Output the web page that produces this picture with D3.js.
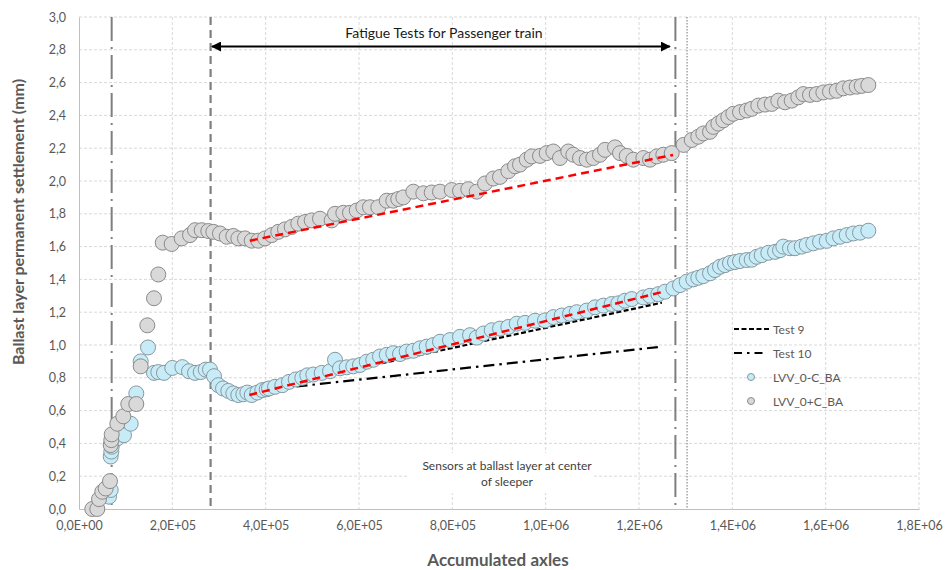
<!DOCTYPE html>
<html>
<head>
<meta charset="utf-8">
<script src="https://cdn.jsdelivr.net/npm/d3@7"></script>
<style>
  html, body { margin: 0; padding: 0; background: #fff; }
  svg { display: block; font-family: Lato, "Open Sans", sans-serif; }
</style>
</head>
<body>
<svg id="chart" width="945" height="570"></svg>
<script>
// ---------- DATA ----------
const xTicks = [0, 200000, 400000, 600000, 800000, 1000000, 1200000, 1400000, 1600000, 1800000];
const xTickLabels = ["0,0E+00","2,0E+05","4,0E+05","6,0E+05","8,0E+05","1,0E+06","1,2E+06","1,4E+06","1,6E+06","1,8E+06"];
const yTicks = [0, 0.2, 0.4, 0.6, 0.8, 1.0, 1.2, 1.4, 1.6, 1.8, 2.0, 2.2, 2.4, 2.6, 2.8, 3.0];
const yTickLabels = ["0,0","0,2","0,4","0,6","0,8","1,0","1,2","1,4","1,6","1,8","2,0","2,2","2,4","2,6","2,8","3,0"];

const seriesNames = ["Test 9", "Test 10", "LVV_0-C_BA", "LVV_0+C_BA"];

// LVV_0-C_BA (light blue markers)
const blueX = [64300,67900,67900,69200,70100,82100,96400,110800,122800,132200,147900,160700,169900,182100,199900,221400,235700,248600,260800,271500,280700,289300,298500,308600,319900,330600,341400,352100,360700,370100,382100,392800,402200,407100,420000,435700,450000,464400,478500,489200,502100,520100,537900,548600,559300,573700,587800,602100,616500,630600,645000,659400,673500,687900,702200,716400,730700,745100,759200,773600,794900,816400,837900,852200,866400,884400,902200,920000,938000,955700,977200,998600,1016400,1034400,1052200,1066500,1087900,1105700,1123500,1141500,1155700,1170000,1184400,1209300,1223600,1241400,1255700,1273600,1287900,1302200,1316400,1327100,1337800,1352200,1362900,1373600,1384300,1395000,1405700,1416400,1430800,1441500,1452200,1462900,1477100,1491500,1502200,1509300,1523600,1534300,1548700,1559400,1573600,1587900,1602200,1616400,1630800,1645100,1659300,1673600,1691400];
const blueY = [0.075,0.116,0.32,0.35,0.38,0.43,0.45,0.52,0.705,0.90,0.985,0.83,0.835,0.83,0.86,0.865,0.84,0.83,0.835,0.85,0.85,0.81,0.755,0.735,0.72,0.705,0.695,0.70,0.71,0.695,0.71,0.725,0.73,0.735,0.745,0.755,0.775,0.79,0.80,0.815,0.82,0.83,0.84,0.91,0.858,0.864,0.87,0.878,0.898,0.91,0.93,0.94,0.95,0.945,0.96,0.965,0.98,0.99,1.00,1.02,1.03,1.05,1.06,1.045,1.07,1.09,1.10,1.11,1.13,1.135,1.148,1.15,1.17,1.18,1.19,1.20,1.21,1.23,1.24,1.25,1.254,1.27,1.28,1.29,1.30,1.31,1.325,1.345,1.365,1.386,1.40,1.41,1.42,1.437,1.457,1.477,1.487,1.50,1.506,1.512,1.518,1.52,1.538,1.548,1.562,1.568,1.578,1.60,1.59,1.59,1.60,1.61,1.62,1.63,1.635,1.65,1.66,1.67,1.68,1.685,1.697];

// LVV_0+C_BA (grey markers)
const greyX = [28500,39200,42900,49900,57200,66400,67900,69200,70100,82100,94900,105600,122800,132200,146400,160700,169900,179400,198600,220100,237900,248600,262900,277100,287800,302100,316500,330600,341400,355700,370100,384200,398600,412900,427100,441400,455800,469900,484300,498600,516400,541500,548600,566400,580700,595100,609200,623600,641400,659400,673500,684200,694900,716400,737800,755800,773600,798700,816400,834200,852200,870000,887800,902200,920000,934300,945000,959400,970100,987900,1002200,1016400,1030700,1048500,1059300,1073600,1087900,1102100,1116400,1127200,1148600,1159300,1173700,1187800,1209300,1223600,1238000,1252100,1270100,1295500,1313000,1327100,1337800,1352200,1359300,1370000,1380700,1391400,1402100,1416400,1430800,1441500,1455700,1470000,1484400,1498500,1512900,1527200,1541400,1552100,1566400,1580800,1595000,1609300,1623700,1637800,1652200,1666500,1677200,1691400];
const greyY = [0.00,0.00,0.06,0.105,0.125,0.17,0.39,0.42,0.455,0.52,0.565,0.64,0.64,0.87,1.12,1.285,1.43,1.624,1.616,1.65,1.67,1.70,1.70,1.695,1.69,1.68,1.66,1.665,1.65,1.65,1.636,1.636,1.65,1.67,1.69,1.705,1.72,1.74,1.75,1.76,1.77,1.76,1.80,1.806,1.806,1.82,1.84,1.84,1.84,1.88,1.88,1.89,1.90,1.935,1.925,1.93,1.935,1.945,1.94,1.95,1.935,1.985,2.015,2.025,2.06,2.09,2.10,2.13,2.15,2.153,2.17,2.18,2.14,2.18,2.16,2.14,2.13,2.14,2.16,2.19,2.205,2.17,2.153,2.13,2.14,2.13,2.15,2.16,2.17,2.22,2.25,2.27,2.29,2.30,2.33,2.35,2.37,2.39,2.41,2.42,2.43,2.44,2.46,2.466,2.47,2.49,2.48,2.49,2.51,2.53,2.525,2.53,2.54,2.545,2.55,2.565,2.57,2.575,2.58,2.585];

// Fitted / reference lines
const test9X = [366000, 1249000];
const test9Y = [0.715, 1.258];
const test10X = [366000, 1249000];
const test10Y = [0.716, 0.99];
const trendBlueX = [365000, 1252000];
const trendBlueY = [0.695, 1.325];
const trendGreyX = [366000, 1273000];
const trendGreyY = [1.636, 2.159];

// Vertical reference lines
const vLineX = [70000, 282000, 1278000, 1303000];
// Arrow "Fatigue Tests for Passenger train"
const arrowX = [285000, 1266000];
const arrowY = 2.82;
const arrowLabel = "Fatigue Tests for Passenger train";
const noteLines = ["Sensors at ballast layer at center", "of sleeper"];
const xTitle = "Accumulated axles";
const yTitle = "Ballast layer permanent settlement (mm)";

// ---------- CHART ----------
const W = 945, H = 570;
const m = {left: 79, right: 26, top: 17, bottom: 61};
const svg = d3.select("#chart");
const x = d3.scaleLinear().domain([0, 1800000]).range([m.left, W - m.right]);
const y = d3.scaleLinear().domain([0, 3]).range([H - m.bottom, m.top]);

const grid = svg.append("g");
grid.selectAll("line.h").data(yTicks.slice(1)).join("line")
  .attr("x1", m.left).attr("x2", W - m.right)
  .attr("y1", d => y(d)).attr("y2", d => y(d))
  .attr("stroke", "#d9d9d9").attr("stroke-width", 1).attr("stroke-dasharray", "3,2");
grid.selectAll("line.v").data(xTicks.slice(1)).join("line")
  .attr("x1", d => x(d)).attr("x2", d => x(d))
  .attr("y1", m.top).attr("y2", H - m.bottom)
  .attr("stroke", "#d9d9d9").attr("stroke-width", 1).attr("stroke-dasharray", "3,2");

// axes
const xAxis = d3.axisBottom(x).tickValues(xTicks).tickFormat((d, i) => xTickLabels[i]).tickSize(0).tickPadding(12);
const yAxis = d3.axisLeft(y).tickValues(yTicks).tickFormat((d, i) => yTickLabels[i]).tickSize(0).tickPadding(13);
const gx = svg.append("g").attr("transform", `translate(0,${H - m.bottom})`).call(xAxis);
const gy = svg.append("g").attr("transform", `translate(${m.left},0)`).call(yAxis);
[gx, gy].forEach(g => {
  g.select(".domain").attr("stroke", "#bfbfbf").attr("stroke-width", 1);
  g.selectAll("text").attr("fill", "#595959").style("font-size", "12.5px").style("font-family", "Lato, 'Open Sans', sans-serif");
});

// note label with white background
const noteG = svg.append("g");
noteG.append("rect").attr("x", 407).attr("y", 453).attr("width", 186).attr("height", 40).attr("fill", "#fff");
noteG.selectAll("text").data(noteLines).join("text")
  .attr("x", 507).attr("y", (d, i) => 470 + i * 16)
  .attr("text-anchor", "middle").attr("fill", "#404040").style("font-size", "12px")
  .text(d => d);

// vertical reference lines
const vStyles = [
  {dash: "24,6,2,6", w: 2, c: "#7f7f7f"},
  {dash: "8,5", w: 2.2, c: "#7f7f7f"},
  {dash: "24,6,2,6", w: 2, c: "#7f7f7f"},
  {dash: "1.5,1.5", w: 1.2, c: "#8c8c8c"}
];
svg.append("g").selectAll("line").data(vLineX).join("line")
  .attr("x1", d => x(d)).attr("x2", d => x(d))
  .attr("y1", m.top).attr("y2", H - m.bottom)
  .attr("stroke", (d, i) => vStyles[i].c)
  .attr("stroke-width", (d, i) => vStyles[i].w)
  .attr("stroke-dasharray", (d, i) => vStyles[i].dash);

// test lines
const line = d3.line().x(d => x(d[0])).y(d => y(d[1]));
svg.append("path").datum(d3.zip(test9X, test9Y)).attr("d", line)
  .attr("fill", "none").attr("stroke", "#000").attr("stroke-width", 2.2).attr("stroke-dasharray", "5,2.5");
svg.append("path").datum(d3.zip(test10X, test10Y)).attr("d", line)
  .attr("fill", "none").attr("stroke", "#000").attr("stroke-width", 2.2).attr("stroke-dasharray", "11,5,2.5,5");

// markers
const R = 7.5;
svg.append("g").selectAll("circle").data(d3.zip(blueX, blueY)).join("circle")
  .attr("cx", d => x(d[0])).attr("cy", d => y(d[1])).attr("r", R)
  .attr("fill", "#c7ecf8").attr("stroke", "#86989f").attr("stroke-width", 1);
svg.append("g").selectAll("circle").data(d3.zip(greyX, greyY)).join("circle")
  .attr("cx", d => x(d[0])).attr("cy", d => y(d[1])).attr("r", R)
  .attr("fill", "#d9d9d9").attr("stroke", "#8a8a8a").attr("stroke-width", 1);

// red trendlines
[[trendBlueX, trendBlueY], [trendGreyX, trendGreyY]].forEach(([tx, ty]) => {
  svg.append("path").datum(d3.zip(tx, ty)).attr("d", line)
    .attr("fill", "none").attr("stroke", "#ff0000").attr("stroke-width", 2.5).attr("stroke-dasharray", "8,5");
});

// arrow
const defs = svg.append("defs");
defs.append("marker").attr("id", "ah").attr("viewBox", "0 0 10 10").attr("refX", 9).attr("refY", 5)
  .attr("markerWidth", 5).attr("markerHeight", 5).attr("orient", "auto-start-reverse")
  .append("path").attr("d", "M0,0 L10,5 L0,10 z").attr("fill", "#000");
svg.append("line")
  .attr("x1", x(arrowX[0])).attr("x2", x(arrowX[1]))
  .attr("y1", y(arrowY)).attr("y2", y(arrowY))
  .attr("stroke", "#000").attr("stroke-width", 2)
  .attr("marker-start", "url(#ah)").attr("marker-end", "url(#ah)");
svg.append("text").attr("x", 444).attr("y", 38).attr("text-anchor", "middle")
  .attr("fill", "#1a1a1a").style("font-size", "14px").text(arrowLabel);

// axis titles
svg.append("text").attr("x", 498).attr("y", 566).attr("text-anchor", "middle")
  .attr("fill", "#595959").style("font-size", "17px").style("font-weight", "bold").text(xTitle);
svg.append("text").attr("transform", `translate(24,222) rotate(-90)`)
  .attr("text-anchor", "middle").attr("fill", "#595959").style("font-size", "16px").style("font-weight", "bold").text(yTitle);

// legend
const lg = svg.append("g");
const lgX = 734, lgTextX = 773, lgRows = [329, 353, 377, 401];
lg.append("line").attr("x1", lgX).attr("x2", lgX + 36).attr("y1", lgRows[0]).attr("y2", lgRows[0])
  .attr("stroke", "#000").attr("stroke-width", 2).attr("stroke-dasharray", "5,2.5");
lg.append("line").attr("x1", lgX).attr("x2", lgX + 30).attr("y1", lgRows[1]).attr("y2", lgRows[1])
  .attr("stroke", "#000").attr("stroke-width", 2).attr("stroke-dasharray", "8,5,2.5,5");
lg.append("circle").attr("cx", 751).attr("cy", lgRows[2]).attr("r", 3.5)
  .attr("fill", "#c7ecf8").attr("stroke", "#86989f").attr("stroke-width", 1);
lg.append("circle").attr("cx", 751).attr("cy", lgRows[3]).attr("r", 3.5)
  .attr("fill", "#d9d9d9").attr("stroke", "#8a8a8a").attr("stroke-width", 1);
lg.selectAll("text").data(seriesNames).join("text")
  .attr("x", lgTextX).attr("y", (d, i) => lgRows[i] + 4.5)
  .attr("fill", "#595959").style("font-size", "12px").text(d => d);
</script>
</body>
</html>
